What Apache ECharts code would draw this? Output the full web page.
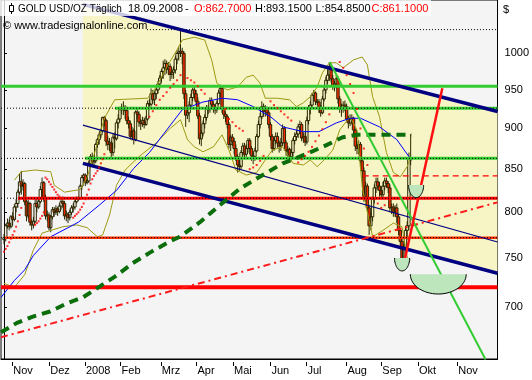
<!DOCTYPE html>
<html><head><meta charset="utf-8">
<script src="https://cdn.jsdelivr.net/npm/echarts@6/dist/echarts.min.js"></script>
<style>html,body{margin:0;padding:0;background:#fff}#c{width:532px;height:380px}</style>
</head><body><div id="c"></div>
<script>
// ---------- DATA ----------
// daily candles [open, close, low, high], 25.10.2007 .. 18.09.2008 (weekdays)
const ohlc = [
[770,772,765,776],[772,785,768,787],[785,788,782,793],[788,784,780,792],[784,795,782,797],
[795,792,785,800],[792,806,790,809],[806,810,800,815],[810,823,805,826],[823,835,820,845],
[835,830,820,848],[830,833,825,838],[833,812,808,835],[812,796,790,815],[796,810,793,814],
[810,789,785,812],[789,786,780,792],[786,790,782,795],[790,810,788,815],[810,806,800,815],
[806,812,804,815],[812,826,810,830],[826,834,822,840],[834,817,812,836],[817,796,792,820],
[796,797,790,802],[797,783,780,800],[783,795,778,797],[795,803,792,806],[803,800,795,806],
[800,804,797,808],[804,801,796,806],[801,807,799,810],[807,812,803,816],[812,810,805,818],
[810,796,792,813],[796,798,790,802],[798,794,788,800],[794,800,791,803],[800,805,797,808],
[805,806,800,810],[806,812,803,815],[812,815,810,818],[815,816,813,818],[816,830,814,832],
[830,840,826,843],[840,843,835,845],[843,834,830,845],[834,836,832,838],[836,857,834,860],
[857,865,852,868],[865,859,855,870],[859,860,852,864],[860,880,857,882],[880,886,876,888],
[886,892,880,895],[892,897,888,900],[897,914,895,915],[914,910,903,916],[910,884,878,912],
[884,880,873,890],[880,882,872,888],[882,870,862,885],[870,889,866,893],[889,887,875,895],
[887,907,885,910],[907,912,900,918],[912,924,908,928],[924,927,918,932],[927,924,917,935],
[924,923,912,930],[923,910,905,928],[910,906,900,915],[906,890,886,910],[890,897,885,902],
[897,886,880,900],[886,921,884,923],[921,918,912,925],[918,908,902,922],[908,906,898,912],
[906,910,902,915],[910,905,900,914],[905,912,903,916],[912,932,910,936],[932,931,924,938],
[931,945,928,952],[945,937,932,950],[937,945,930,948],[945,950,938,955],[950,958,945,962],
[958,966,952,970],[966,975,960,978],[975,980,965,990],[980,986,970,992],[986,978,972,990],
[978,982,970,988],[982,971,962,986],[971,974,965,980],[974,977,965,982],[977,992,972,996],
[992,1000,985,1005],[1000,1002,990,1010],[1002,1003,995,1032],[1003,1000,985,1008],[1000,945,938,1003],
[945,917,902,950],[917,920,912,925],[920,930,908,935],[930,940,925,945],[940,950,935,953],
[950,945,938,955],[945,935,930,950],[935,916,912,940],[916,887,880,920],[887,894,878,898],
[894,906,890,910],[906,914,900,918],[914,926,910,930],[926,924,918,930],[924,936,920,940],
[936,931,925,940],[931,925,920,935],[925,924,918,930],[924,932,920,936],[932,946,930,950],
[946,952,940,957],[952,925,920,955],[925,918,912,928],[918,915,908,922],[915,905,900,918],
[905,880,875,908],[880,889,872,892],[889,884,878,893],[884,875,868,888],[875,865,860,880],
[865,855,846,868],[855,853,848,862],[853,870,850,873],[870,878,865,882],[878,868,862,882],
[868,875,862,880],[875,885,870,888],[885,875,868,888],[875,866,860,878],[866,865,856,870],
[865,872,860,876],[872,890,870,893],[890,905,888,910],[905,915,900,920],[915,928,912,935],
[928,922,915,932],[922,925,915,930],[925,920,916,928],[920,905,900,923],[905,890,885,908],
[890,875,870,893],[875,885,872,888],[885,890,880,895],[890,882,876,895],[882,878,870,885],
[878,882,872,888],[882,900,878,905],[900,882,875,903],[882,872,866,885],[872,874,865,878],
[874,865,858,876],[865,870,860,875],[870,885,865,888],[885,890,880,895],[890,893,885,898],
[893,902,888,906],[902,905,895,910],[905,888,884,908],[888,890,882,895],[890,883,878,895],
[883,910,880,915],[910,925,905,930],[925,930,918,935],[930,943,925,946],[943,946,935,950],
[946,935,930,948],[935,934,930,938],[934,925,920,938],[925,920,915,930],[920,938,918,942],
[938,950,935,955],[950,963,945,968],[963,970,958,978],[970,982,962,988],[982,965,960,986],
[965,955,950,970],[955,958,948,962],[958,965,952,970],[965,938,932,968],[938,925,920,942],
[925,926,915,932],[926,930,920,935],[930,928,922,936],[928,912,908,932],[912,907,900,916],
[907,912,903,918],[912,913,905,918],[913,898,892,915],[898,878,872,900],[878,875,868,884],
[875,880,868,885],[880,860,852,883],[860,848,840,864],[848,818,812,852],[818,830,808,835],
[830,805,800,833],[805,785,775,808],[785,795,780,800],[795,815,790,818],[815,828,810,832],
[828,835,822,840],[835,830,825,840],[830,825,818,835],[825,820,815,830],[820,830,815,835],
[830,836,825,840],[836,833,828,840],[833,828,822,836],[828,805,800,832],[805,806,798,810],
[806,800,795,810],[800,805,795,808],[805,795,788,810],[795,780,775,798],[780,768,760,782],
[768,745,738,772],[745,760,742,765],[760,780,755,785],[780,785,770,790],[785,862,780,870],
[862.7,861.1,854.85,893.15]
];
// indicators [barIndex, price]
const bbUpper = [[6,837],[10,847],[18,849],[27,847],[29,831],[35,823],[44,826],[48,840],[52,867],[58,913],[64,937],[73,938],[83,939],[88,954],[94,981],[100,1005],[103,1019],[110,1023],[116,1019],[120,991],[123,959],[129,950],[135,954],[140,967],[144,970],[148,959],[151,939],[158,939],[165,937],[169,928],[173,933],[177,941],[181,954],[184,973],[188,987],[192,987],[196,980],[202,991],[207,995],[210,984],[213,941],[217,915],[221,870],[225,846],[229,841],[233,853],[235,865]];
const bbLower = [[0,724],[6,720],[12,733],[17,759],[22,777],[34,784],[42,786],[48,783],[54,773],[57,775],[61,797],[65,831],[70,849],[78,865],[88,882],[96,900],[102,911],[106,886],[110,877],[115,871],[121,877],[126,892],[130,873],[134,849],[140,843],[146,846],[151,861],[155,873],[161,877],[167,857],[173,855],[177,861],[181,853],[185,861],[190,873],[194,898],[200,915],[204,898],[207,829],[211,791],[213,773],[219,780],[225,788],[230,784],[233,751],[235,748]];
const blueMA = [[-1.7,710],[6,727],[12,738],[17,753],[27,773],[43,789],[55,808],[65,825],[75,851],[84,870],[94,898],[103,924],[115,934],[126,939],[135,937],[144,928],[154,915],[161,902],[173,896],[182,896],[192,907],[200,913],[206,913],[217,902],[227,886],[234,865]];
const greenMA = [[-1.7,676],[7.5,685],[16.7,691],[26.6,696],[36.4,704],[45.6,710],[55.4,721],[64.1,731],[74.5,745],[84.3,756],[95.8,768],[101.6,773],[113.2,789],[124.7,808],[136.3,827],[147.8,841],[161.1,857],[170.9,865],[184.2,877],[195.7,889],[203.8,892],[235.6,892]];
const sar = [[0,757],[1,760],[2,763],[3,767],[4,771],[5,775],[6,779],[7,784],[8,790],[9,797],[10,805],
[18,786],[19,788],[20,790],[21,793],[22,796],[23,800],
[24,840],[25,838],[26,835],[27,832],[28,829],[29,826],[30,823],[31,820],[32,818],[33,816],
[40,794],[41,796],[42,798],[43,800],[44,803],[45,806],[46,810],[47,815],[48,820],[49,826],[50,833],[51,838],[52,842],[53,845],[54,848],[55,852],[56,857],[57,862],[58,868],
[84,915],[86,922],[88,930],[90,937],[92,942],[94,947],[96,953],[98,958],[100,963],[102,970],
[106,966],[108,963],[110,960],[112,955],[114,950],[116,945],
[128,925],[130,912],[132,908],[134,903],[136,900],[138,897],
[142,850],[144,852],[146,855],[148,860],[150,866],
[154,935],[156,930],[158,926],[160,922],[162,918],[164,914],[166,910],
[170,858],[172,862],[174,866],[176,871],[178,877],[180,884],[182,891],[184,899],[186,908],[188,918],
[194,988],[196,980],[198,970],[200,958],[202,946],[204,925],[206,900],[208,875],[210,855],
[216,810],[218,805],[220,808]];
// drawings [barIndex, price]
const X_END = 285.2;
const channelUpper = [[45.6,1071.3],[X_END,921.7]];
const channelLower = [[45.6,856.9],[X_END,734.4]];
const channelMid = [[45.6,904.2],[X_END,767.4]];
const greenTrend = [[188.2,988],[278.3,650.6]];
const redTrend = [[230.2,737.1],[253.3,952.3]];
const redDashDot = [[-1.73,671.3],[X_END,811.3]];
const dottedLevels = [[82.6,1034],[-1.73,926],[-1.73,863],[-1.73,816],[-1.73,772]];
const greenLevels = [[-1.73,955],[64.1,926],[46.8,863]];
const redLevels = [[8.1,816,3],[0.6,772,2.5],[-1.73,720,4]];
const redDashLevel = [[207.3,842]];
// half-ellipses [leftIndex, rightIndex, topPrice, bottomPrice]
const bowls = [[225.7,234.4,750.3,736.8],[233.8,242.5,831.2,816.7],[234.8,267.1,733.4,713.3]];
// axes
const monthLabels = ['Nov','Dez','2008','Feb','Mrz','Apr','Mai','Jun','Jul','Aug','Sep','Okt','Nov'];
const monthPos = [4.79,26.15,46.77,67.38,90.65,111.26,132.39,153.98,174.77,197.86,218.07,239.2,261.95];
const priceTicks = [700,750,800,850,900,950,1000];
const X_MIN = -1.73, X_MAX = 285.2, P_MIN = 651.1, P_MAX = 1077.9;

// ---------- CHART ----------
const L = Math.log;
const FONT = "'Liberation Sans', Arial, sans-serif";
function seg(pts, lineStyle, z) {
  return {type:'line', data: pts.map(p => [p[0], L(p[1])]), symbol:'none', showSymbol:false,
    lineStyle: lineStyle, z: z, silent:true, clip:true, animation:false};
}
const series = [];
// channel fill
series.push({type:'custom', z:1, clip:true, silent:true,
  data:[[channelUpper[0][0], channelUpper[1][0], L(channelUpper[0][1]), L(channelUpper[1][1]), L(channelLower[0][1]), L(channelLower[1][1])]],
  renderItem:(params, api) => {
    const a = api.coord([api.value(0), api.value(2)]), b = api.coord([api.value(1), api.value(3)]);
    const c = api.coord([api.value(1), api.value(5)]), d = api.coord([api.value(0), api.value(4)]);
    return {type:'polygon', shape:{points:[a,b,c,d]}, style:{fill:'#f7f4c6'}};
  }});
// candles
series.push({type:'custom', z:3, clip:true, silent:true,
  data: ohlc.map((d,i) => [i, L(d[0]), L(d[1]), L(d[2]), L(d[3])]),
  renderItem:(params, api) => {
    const i = api.value(0);
    const po = api.coord([i, api.value(1)]), pc = api.coord([i, api.value(2)]);
    const pl = api.coord([i, api.value(3)]), ph = api.coord([i, api.value(4)]);
    const x = po[0], w = 2.4;
    const top = Math.min(po[1], pc[1]), bot = Math.max(po[1], pc[1]);
    const down = api.value(2) < api.value(1);
    const col = '#2a2600';
    return {type:'group', children:[
      {type:'line', shape:{x1:x,y1:ph[1],x2:x,y2:top}, style:{stroke:col, lineWidth:1}},
      {type:'line', shape:{x1:x,y1:bot,x2:x,y2:pl[1]}, style:{stroke:col, lineWidth:1}},
      {type:'rect', shape:{x:x-w/2, y:top, width:w, height:Math.max(bot-top,1)},
        style:{fill: down ? '#ff2a00' : 'none', stroke:col, lineWidth:1}}
    ]};
  }});
// indicators
series.push(seg(bbUpper, {color:'#9c9a12', width:1}, 4));
series.push(seg(bbLower, {color:'#9c9a12', width:1}, 4));
series.push(seg(blueMA, {color:'#0000ff', width:1}, 4));
// horizontal levels
greenLevels.forEach(g => series.push(seg([[g[0],g[1]],[X_END,g[1]]], {color:'#33cc33', width:3}, 5)));
redLevels.forEach(r => series.push(seg([[r[0],r[1]],[X_END,r[1]]], {color: r[1]===772 ? '#ff3000' : '#ff0000', width:r[2]}, 5)));
redDashLevel.forEach(r => series.push(seg([[r[0],r[1]],[X_END,r[1]]], {color:'#ff0000', width:1.2, type:[6,4]}, 5)));
dottedLevels.forEach(d => series.push(seg([[d[0],d[1]],[X_END,d[1]]], {color:'#000', width:1, type:[1,2]}, 6)));
// channel lines
series.push(seg(channelUpper, {color:'#000080', width:3.5}, 6));
series.push(seg(channelLower, {color:'#000080', width:3.5}, 6));
series.push(seg(channelMid, {color:'#000080', width:1.2}, 6));
series.push(seg(redDashDot, {color:'#ff1a1a', width:2, type:[7,4,2,4]}, 6));
series.push(seg(greenMA, {color:'#0b6e0b', width:4, type:[9,6]}, 7));
// SAR
series.push({type:'scatter', data: sar.map(p => [p[0], L(p[1])]), symbol:'rect', symbolSize:2,
  itemStyle:{color:'#ff0000'}, z:7, silent:true, animation:false});
// trend lines
series.push(seg(greenTrend, {color:'#33cc33', width:2}, 8));
series.push(seg(redTrend, {color:'#ff1010', width:2.5}, 8));
// bowls
series.push({type:'custom', z:9, clip:true, silent:true,
  data: bowls.map(b => [b[0], b[1], L(b[2]), L(b[3])]),
  renderItem:(params, api) => {
    const p1 = api.coord([api.value(0), api.value(2)]), p2 = api.coord([api.value(1), api.value(3)]);
    const cx = (p1[0]+p2[0])/2, rx = (p2[0]-p1[0])/2, ry = p2[1]-p1[1], top = p1[1];
    const pts = [];
    for (let k = 0; k <= 30; k++) { const a = Math.PI * k / 30; pts.push([cx + rx*Math.cos(a), top + ry*Math.sin(a)]); }
    return {type:'group', children:[
      {type:'polygon', shape:{points:pts}, style:{fill:'#bde6bd'}},
      {type:'polyline', shape:{points:pts}, style:{stroke:'#000', lineWidth:1, fill:'none'}}
    ]};
  }});

const labelFor = v => { let best = 0; monthPos.forEach((p,k) => { if (Math.abs(p-v) < Math.abs(monthPos[best]-v)) best = k; }); return monthLabels[best]; };

const option = {
  animation:false,
  backgroundColor:'#ffffff',
  grid:{left:1, top:0, width:497, height:359, show:true, backgroundColor:'#f4f4f4', borderColor:'#000', borderWidth:1},
  xAxis:[
    {type:'value', min:X_MIN, max:X_MAX, position:'bottom',
      axisLine:{show:true, lineStyle:{color:'#000', width:1}}, axisTick:{show:false}, splitLine:{show:false},
      axisLabel:{customValues: monthPos, formatter: labelFor, align:'left', margin:6, color:'#000', fontSize:11, fontFamily:FONT, padding:[0,0,0,1]}},
    {type:'value', min:X_MIN, max:X_MAX, position:'bottom', offset:3,
      axisLine:{show:false}, axisLabel:{show:false}, splitLine:{show:false},
      axisTick:{show:true, customValues: monthPos, length:4, lineStyle:{color:'#000'}}}
  ],
  yAxis:[
    {type:'value', min:L(P_MIN), max:L(P_MAX), position:'right',
      axisLine:{show:true, lineStyle:{color:'#000', width:1}}, axisTick:{show:false}, splitLine:{show:false},
      axisLabel:{customValues: priceTicks.map(L), formatter: v => String(Math.round(Math.exp(v))), margin:7, color:'#000', fontSize:11, fontFamily:FONT}},
    {type:'value', min:L(P_MIN), max:L(P_MAX), position:'right', offset:2,
      axisLine:{show:false}, axisLabel:{show:false}, splitLine:{show:false},
      axisTick:{show:true, customValues: priceTicks.map(L), length:3, lineStyle:{color:'#000'}}}
  ],
  graphic:[
    {type:'rect', z:100, shape:{x:0, y:0, width:431, height:16}, style:{fill:'rgba(255,255,255,0.78)'}},
    {type:'line', z:101, shape:{x1:11.5, y1:3, x2:11.5, y2:14}, style:{stroke:'#000', lineWidth:1}},
    {type:'rect', z:102, shape:{x:9.5, y:5.5, width:4, height:6}, style:{fill:'#fff', stroke:'#000', lineWidth:1}},
    {type:'text', z:101, x:18, y:9, style:{text:'GOLD USD/OZ Täglich', font:'10px '+FONT, fill:'#000', verticalAlign:'middle'}},
    {type:'text', z:101, x:128, y:9, style:{text:'18.09.2008', font:'11px '+FONT, fill:'#000', verticalAlign:'middle'}},
    {type:'text', z:101, x:185, y:9, style:{text:'-', font:'11px '+FONT, fill:'#000', verticalAlign:'middle'}},
    {type:'text', z:101, x:194, y:9, style:{text:'O:862.7000', font:'11px '+FONT, fill:'#ff0000', verticalAlign:'middle'}},
    {type:'text', z:101, x:255, y:9, style:{text:'H:893.1500', font:'11px '+FONT, fill:'#000', verticalAlign:'middle'}},
    {type:'text', z:101, x:315.5, y:9, style:{text:'L:854.8500', font:'11px '+FONT, fill:'#000', verticalAlign:'middle'}},
    {type:'text', z:101, x:371.5, y:9, style:{text:'C:861.1000', font:'11px '+FONT, fill:'#ff0000', verticalAlign:'middle'}},
    {type:'text', z:101, x:3, y:25.5, style:{text:'© www.tradesignalonline.com', font:'11px '+FONT, fill:'#000', verticalAlign:'middle'}},
    {type:'text', z:101, x:503, y:10, style:{text:'$', font:'11px '+FONT, fill:'#000', verticalAlign:'middle'}}
  ],
  series: series
};
const chart = echarts.init(document.getElementById('c'), null, {renderer:'canvas'});
chart.setOption(option);
</script></body></html>
